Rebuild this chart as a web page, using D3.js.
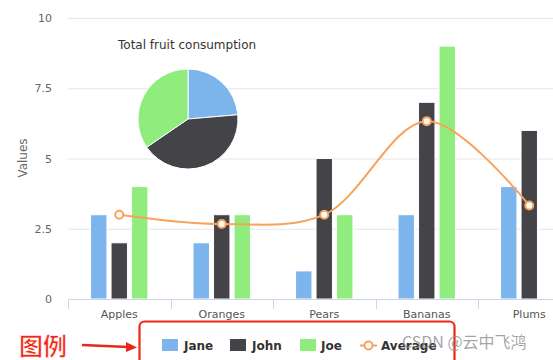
<!DOCTYPE html>
<html><head><meta charset="utf-8">
<script src="https://cdn.jsdelivr.net/npm/d3@7"></script>
<style>body{margin:0;background:#fff;overflow:hidden}svg{display:block;font-family:"Lucida Grande","DejaVu Sans",Arial,sans-serif}</style>
</head><body><svg id="c" width="553" height="360"></svg>
<script>
const categories = ["Apples","Oranges","Pears","Bananas","Plums"];
const seriesNames = ["Jane","John","Joe"];
const jane = [3,2,1,3,4];
const john = [2,3,5,7,6];
const joe = [4,3,3,9,0];
const average = [3,2.67,3,6.33,3.33];
const pieValues = [13,23,19];
const yTicks = [0,2.5,5,7.5,10];
const colors = ["#7cb5ec","#434348","#90ed7d"];
const avgColor = "#f7a35c";

const svg = d3.select("#c");
const pLeft = 68, pRight = 580.5, pTop = 18, pBottom = 299;
const x = d3.scaleBand().domain(categories).range([pLeft, pRight]).paddingInner(0).paddingOuter(0);
const y = d3.scaleLinear().domain([0,10]).range([pBottom, pTop]);
const bw = x.bandwidth();
const slot = bw*0.6/3;
function barX(i, s){ return x(categories[i]) + bw*0.2 + slot*s + slot*0.1; }

// grid
svg.append("g").selectAll("line").data(yTicks.filter(d=>d>0)).join("line")
  .attr("x1", pLeft).attr("x2", 553).attr("y1", d=>y(d)+0.5).attr("y2", d=>y(d)+0.5)
  .attr("stroke","#e6e6e6");

// y labels
svg.append("g").selectAll("text").data(yTicks).join("text")
  .attr("x", 52).attr("y", d=>y(d)+4).attr("text-anchor","end")
  .attr("font-size","11px").attr("fill","#666").text(d=>d);
svg.append("text").attr("transform","translate(27,158) rotate(-90)")
  .attr("text-anchor","middle").attr("font-size","12px").attr("fill","#666").text("Values");

// bars
const allSeries = [jane, john, joe];
allSeries.forEach((vals, s) => {
  svg.append("g").selectAll("rect").data(vals).join("rect")
    .attr("x", (d,i)=>barX(i,s)).attr("width", slot*0.8)
    .attr("y", d=>y(d)).attr("height", d=>Math.max(0, y(0)-y(d)))
    .attr("fill", colors[s]).attr("stroke","#fff").attr("stroke-width",1)
    .attr("display", d=> d>0 ? null : "none");
});

// x axis
svg.append("line").attr("x1",pLeft).attr("x2",553).attr("y1",pBottom+0.5).attr("y2",pBottom+0.5).attr("stroke","#ccd6eb");
svg.append("g").selectAll("line").data(categories).join("line")
  .attr("x1", d=>Math.round(x(d))+0.5).attr("x2", d=>Math.round(x(d))+0.5)
  .attr("y1", pBottom).attr("y2", pBottom+10).attr("stroke","#ccd6eb");
svg.append("g").selectAll("text").data(categories).join("text")
  .attr("x", d=>x(d)+bw/2).attr("y", 318).attr("text-anchor","middle")
  .attr("font-size","11px").attr("fill","#555").text(d=>d);

// average spline
const pts = average.map((v,i)=>[x(categories[i])+bw/2, y(v)]);
svg.append("path").attr("d", d3.line().curve(d3.curveCatmullRom.alpha(0.5))(pts))
  .attr("fill","none").attr("stroke",avgColor).attr("stroke-width",2);
svg.append("g").selectAll("circle").data(pts).join("circle")
  .attr("cx", d=>d[0]).attr("cy", d=>d[1]).attr("r",4)
  .attr("fill","#fff").attr("stroke",avgColor).attr("stroke-width",2);

// pie
svg.append("text").attr("x",118).attr("y",49).attr("font-size","12px").attr("fill","#333").text("Total fruit consumption");
const pie = d3.pie().sort(null)(pieValues);
const arc = d3.arc().innerRadius(0).outerRadius(50);
svg.append("g").attr("transform","translate(188,119)").selectAll("path").data(pie).join("path")
  .attr("d", arc).attr("fill", (d,i)=>colors[i]).attr("stroke","#fff").attr("stroke-width",1);

// legend
const lg = svg.append("g");
const legendItems = [
  {name:"Jane", sx:162, tx:184, type:"rect", c:colors[0]},
  {name:"John", sx:230, tx:252, type:"rect", c:colors[1]},
  {name:"Joe", sx:300, tx:321, type:"rect", c:colors[2]},
  {name:"Average", sx:360, tx:381, type:"line", c:avgColor}
];
legendItems.forEach(it=>{
  if(it.type==="rect"){
    lg.append("rect").attr("x",it.sx).attr("y",339).attr("width",16).attr("height",12).attr("fill",it.c);
  } else {
    lg.append("line").attr("x1",it.sx).attr("x2",it.sx+17).attr("y1",345.5).attr("y2",345.5).attr("stroke",it.c).attr("stroke-width",2);
    lg.append("circle").attr("cx",it.sx+8.5).attr("cy",345.5).attr("r",4).attr("fill","#fff").attr("stroke",it.c).attr("stroke-width",2);
  }
  lg.append("text").attr("x",it.tx).attr("y",350).attr("font-size","12px").attr("font-weight","bold").attr("fill","#333").text(it.name);
});

// annotations
svg.append("rect").attr("x",139.5).attr("y",321.5).attr("width",315).attr("height",60).attr("rx",5)
  .attr("fill","none").attr("stroke","#f22613").attr("stroke-width",2.2);
svg.append("text").attr("x",19).attr("y",355).attr("font-size","24px").attr("font-weight","bold")
  .attr("font-family","Noto Sans CJK SC").attr("fill","#f22613").attr("stroke","#fff").attr("stroke-width",0.6).text("图例");
svg.append("line").attr("x1",82).attr("x2",128).attr("y1",345).attr("y2",347).attr("stroke","#e8271a").attr("stroke-width",2.5);
svg.append("path").attr("d","M126,342 L137,347.5 L126,352 Z").attr("fill","#e8271a");
svg.append("text").attr("x",402).attr("y",348).attr("font-size","16px").attr("font-family","Noto Sans CJK SC")
  .attr("fill","#888").attr("fill-opacity",0.75).text("CSDN @云中飞鸿");
</script></body></html>
